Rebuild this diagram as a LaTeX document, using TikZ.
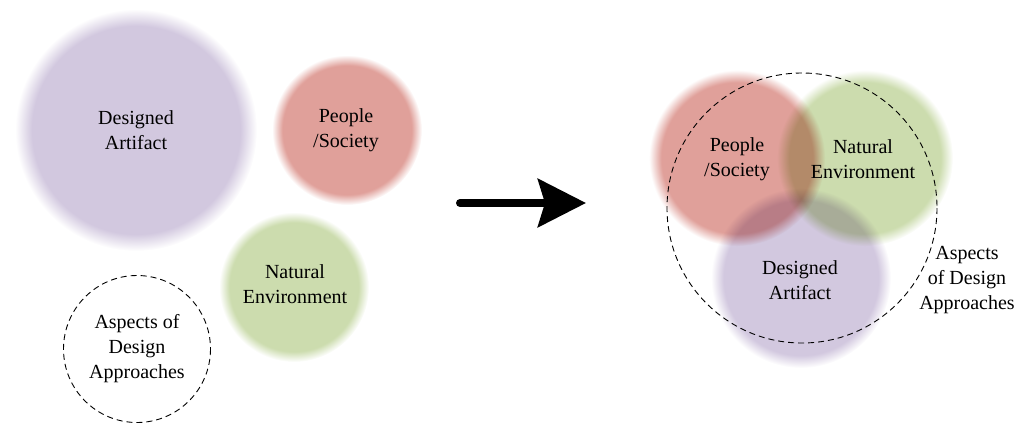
\documentclass[tikz,border=0pt]{standalone}
\usepackage{fontspec}
\setmainfont{Liberation Serif}
\newfontfamily\blobfont{Liberation Serif}
\usetikzlibrary{arrows.meta}
\definecolor{blobpurple}{HTML}{D2C8DF}
\definecolor{blobpink}{HTML}{E0A09A}
\definecolor{blobgreen}{HTML}{CCDCAE}
\pgfdeclareradialshading{purpleblob}{\pgfpointorigin}{color(0bp)=(blobpurple); color(21.5bp)=(blobpurple); color(25bp)=(white); color(50bp)=(white)}
\pgfdeclareradialshading{pinkblob}{\pgfpointorigin}{color(0bp)=(blobpink); color(21.5bp)=(blobpink); color(25bp)=(white); color(50bp)=(white)}
\pgfdeclareradialshading{greenblob}{\pgfpointorigin}{color(0bp)=(blobgreen); color(21.5bp)=(blobgreen); color(25bp)=(white); color(50bp)=(white)}
\tikzset{
  blob/.style={shading=#1, blend mode=multiply},
  blobtext/.style={align=center, font=\blobfont\fontsize{20}{25}\selectfont, inner sep=0pt},
  aspect/.style={draw=black, line width=0.9pt, dash pattern=on 6pt off 4pt},
  bigarrow/.style={line width=8pt, line cap=round, -{Stealth[length=48pt,width=48pt,inset=7pt]}}
}
\begin{document}
\begin{tikzpicture}[x=1pt,y=-1pt]
\useasboundingbox (0,0) rectangle (1018,424);
% left group
\shade[blob=purpleblob] (136,130) circle (121);
\shade[blob=pinkblob] (347,130) circle (75);
\shade[blob=greenblob] (294,287) circle (75);
\draw[aspect] (137,349) circle (73.5);
\node[blobtext] (lda) at (136,130) {Designed\\Artifact};
\node[blobtext] (lps) at (346,130) {People\\/Society};
\node[blobtext] (lne) at (295,284) {Natural\\Environment};
\node[blobtext] (lad) at (137,349) {Aspects of\\Design\\Approaches};
% arrow
\coordinate (as) at (460,203);
\coordinate (ae) at (586,203);
\draw[bigarrow] (as) -- (ae);
% right group
\shade[blob=pinkblob] (737,158) circle (88);
\shade[blob=greenblob] (865,158) circle (88);
\shade[blob=purpleblob] (801,278) circle (90);
\draw[aspect] (802,208) circle (135);
\node[blobtext] (rps) at (737,159) {People\\/Society};
\node[blobtext] (rne) at (863,159) {Natural\\Environment};
\node[blobtext] (rda) at (800,280) {Designed\\Artifact};
\node[blobtext] (rad) at (967,280) {Aspects\\of Design\\Approaches};
\end{tikzpicture}
\end{document}
